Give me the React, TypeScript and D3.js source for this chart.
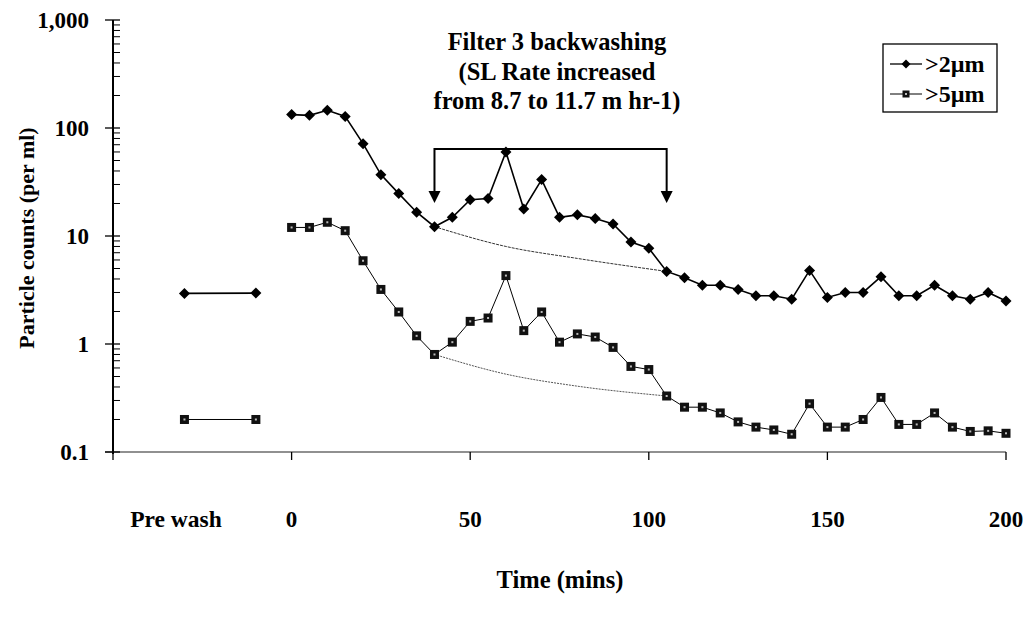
import React from "react";
import * as d3 from "d3";

// ---- data ----
const times: number[] = [0,5,10,15,20,25,30,35,40,45,50,55,60,65,70,75,80,85,90,95,100,105,110,115,120,125,130,135,140,145,150,155,160,165,170,175,180,185,190,195,200];
const over2: number[] = [133,131,146,128,71.6,37,24.7,16.6,12.2,14.9,21.7,22.2,60,17.8,33.3,14.9,15.7,14.5,12.9,8.8,7.7,4.7,4.1,3.5,3.5,3.2,2.8,2.8,2.6,4.8,2.7,3.0,3.0,4.2,2.8,2.8,3.5,2.8,2.6,3.0,2.5];
const over5: number[] = [12.0,12.0,13.4,11.2,5.9,3.2,1.98,1.19,0.80,1.04,1.62,1.74,4.3,1.33,1.98,1.04,1.24,1.16,0.93,0.62,0.58,0.33,0.26,0.26,0.23,0.19,0.17,0.16,0.146,0.28,0.17,0.17,0.20,0.32,0.18,0.18,0.23,0.17,0.155,0.157,0.149];
const preTimes: number[] = [-30, -10];
const preOver2: number[] = [2.94, 2.96];
const preOver5: number[] = [0.20, 0.20];
const baseTimes: number[] = [40, 60, 80, 105];
const baseOver2: number[] = [12.2, 8.0, 6.2, 4.7];
const baseOver5: number[] = [0.80, 0.526, 0.407, 0.33];
const arrowTimes: number[] = [40, 105];
const yTicks: number[] = [0.1, 1, 10, 100, 1000];
const xTicks: number[] = [-50, 0, 50, 100, 150, 200];
const xTickLabels: string[] = ["", "0", "50", "100", "150", "200"];
const titleLines: string[] = ["Filter 3 backwashing", "(SL Rate increased", "from 8.7 to 11.7 m hr-1)"];
const legendLabels: string[] = [">2\u00b5m", ">5\u00b5m"];

const FONT = "'Liberation Serif', 'Times New Roman', serif";

export default function App() {
  const x = d3.scaleLinear().domain([-50, 200]).range([113, 1006]);
  const y = d3.scaleLog().domain([0.1, 1000]).range([452, 20]);

  const line = d3.line<[number, number]>().x(d => x(d[0])).y(d => y(d[1]));
  const curve = d3.line<[number, number]>().x(d => x(d[0])).y(d => y(d[1])).curve(d3.curveMonotoneX);

  const s2 = times.map((t, i) => [t, over2[i]] as [number, number]);
  const s5 = times.map((t, i) => [t, over5[i]] as [number, number]);
  const p2 = preTimes.map((t, i) => [t, preOver2[i]] as [number, number]);
  const p5 = preTimes.map((t, i) => [t, preOver5[i]] as [number, number]);
  const b2 = baseTimes.map((t, i) => [t, baseOver2[i]] as [number, number]);
  const b5 = baseTimes.map((t, i) => [t, baseOver5[i]] as [number, number]);

  const minor: number[] = [];
  for (let d = 0.1; d < 1000; d *= 10) {
    for (let k = 2; k <= 9; k++) minor.push(d * k);
  }

  const diamond = (cx: number, cy: number, key: string, r = 5.5) => (
    <path key={key} d={`M${cx},${cy - r}L${cx + r},${cy}L${cx},${cy + r}L${cx - r},${cy}Z`} fill="#000" />
  );
  const square = (cx: number, cy: number, key: string, h = 4.5) => (
    <g key={key}>
      <rect x={cx - h} y={cy - h} width={2 * h} height={2 * h} fill="#111" />
      <rect x={cx - 1} y={cy - 1} width={2} height={2} fill="#bbb" />
    </g>
  );

  const bracketY = 149;
  const arrowTip = 203;

  return (
    <svg width={1027} height={620} style={{ position: "absolute", left: 0, top: 0, background: "#fff" }}
      fontFamily={FONT} fontWeight="bold">
      <rect width={1027} height={620} fill="#fff" />
      {/* axes */}
      <line x1={113} x2={113} y1={y(1000)} y2={y(0.1) + 2} stroke="#000" strokeWidth={2} />
      <line x1={105} x2={x(200)} y1={y(0.1)} y2={y(0.1)} stroke="#222" strokeWidth={1.1} />
      {yTicks.map(v => (
        <line key={"yt" + v} x1={105} x2={120} y1={y(v)} y2={y(v)} stroke="#000" strokeWidth={1.3} />
      ))}
      {minor.map((v, i) => (
        <line key={"ym" + i} x1={113} x2={120} y1={y(v)} y2={y(v)} stroke="#000" strokeWidth={1} />
      ))}
      {yTicks.map(v => (
        <text key={"yl" + v} x={89} y={y(v) + 7.5} textAnchor="end" fontSize={23}>
          {d3.format(",")(v)}
        </text>
      ))}
      {xTicks.map((v, i) => (
        <g key={"xt" + v}>
          <line x1={x(v)} x2={x(v)} y1={y(0.1)} y2={y(0.1) + 8} stroke="#000" strokeWidth={1.3} />
          <text x={x(v)} y={527} textAnchor="middle" fontSize={23}>{xTickLabels[i]}</text>
        </g>
      ))}
      <text x={176} y={527} textAnchor="middle" fontSize={23.5}>Pre wash</text>
      <text x={560} y={588} textAnchor="middle" fontSize={24.5}>Time (mins)</text>
      <text transform={`translate(34,238) rotate(-90)`} textAnchor="middle" fontSize={22}>Particle counts (per ml)</text>

      {/* title */}
      {titleLines.map((t, i) => (
        <text key={"tt" + i} x={557} y={50 + i * 29.5} textAnchor="middle" fontSize={24.5}>{t}</text>
      ))}

      {/* bracket with arrows */}
      <path d={`M${x(arrowTimes[0])},${bracketY + 42}V${bracketY}H${x(arrowTimes[1])}V${bracketY + 42}`} fill="none" stroke="#000" strokeWidth={2} />
      {arrowTimes.map(t => (
        <path key={"ar" + t} d={`M${x(t) - 6},${arrowTip - 12}L${x(t) + 6},${arrowTip - 12}L${x(t)},${arrowTip}Z`} fill="#000" />
      ))}

      {/* baseline curves */}
      <path d={curve(b2) || ""} fill="none" stroke="#333" strokeWidth={1} strokeDasharray="3,1" />
      <path d={curve(b5) || ""} fill="none" stroke="#555" strokeWidth={1} strokeDasharray="2,1" />

      {/* series */}
      <path d={line(s2) || ""} fill="none" stroke="#000" strokeWidth={1.6} />
      <path d={line(p2) || ""} fill="none" stroke="#000" strokeWidth={1.6} />
      <path d={line(s5) || ""} fill="none" stroke="#000" strokeWidth={1} />
      <path d={line(p5) || ""} fill="none" stroke="#000" strokeWidth={1} />
      {s2.map((d, i) => diamond(x(d[0]), y(d[1]), "d" + i))}
      {p2.map((d, i) => diamond(x(d[0]), y(d[1]), "pd" + i))}
      {s5.map((d, i) => square(x(d[0]), y(d[1]), "s" + i))}
      {p5.map((d, i) => square(x(d[0]), y(d[1]), "ps" + i))}

      {/* legend */}
      <rect x={883} y={44} width={114} height={68} fill="#fff" stroke="#000" strokeWidth={1.3} />
      <line x1={890} x2={922} y1={64} y2={64} stroke="#000" strokeWidth={1.3} />
      {diamond(906, 64, "ld", 4.5)}
      <text x={925} y={72} fontSize={24}>{legendLabels[0]}</text>
      <line x1={890} x2={922} y1={94} y2={94} stroke="#000" strokeWidth={1} />
      {square(906, 94, "ls", 3.5)}
      <text x={925} y={102} fontSize={24}>{legendLabels[1]}</text>
    </svg>
  );
}
